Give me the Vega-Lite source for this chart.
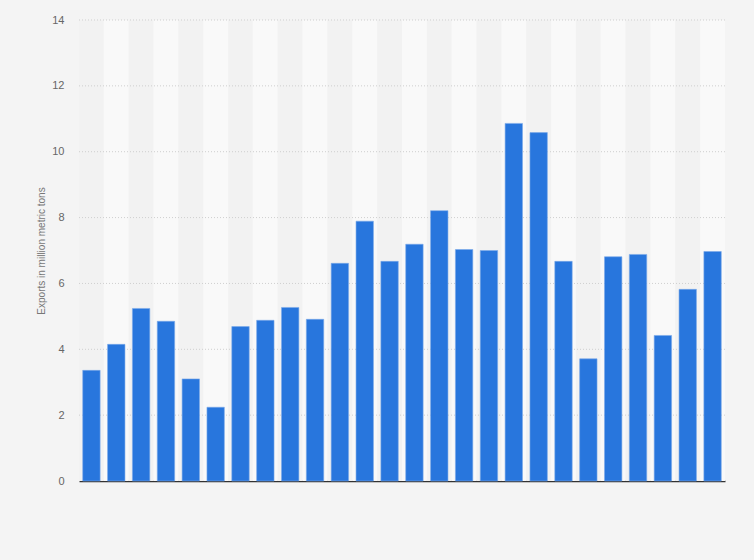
{
  "$schema": "https://vega.github.io/schema/vega-lite/v6.json",
  "width": 646,
  "height": 461,
  "autosize": "none",
  "padding": {"left": 79, "top": 20, "right": 29, "bottom": 79},
  "background": "#f4f4f4",
  "data": {
    "values": [
      {"year": 1996, "exports": 3.36},
      {"year": 1997, "exports": 4.15},
      {"year": 1998, "exports": 5.24},
      {"year": 1999, "exports": 4.85},
      {"year": 2000, "exports": 3.10},
      {"year": 2001, "exports": 2.24},
      {"year": 2002, "exports": 4.69},
      {"year": 2003, "exports": 4.88},
      {"year": 2004, "exports": 5.27},
      {"year": 2005, "exports": 4.91},
      {"year": 2006, "exports": 6.61},
      {"year": 2007, "exports": 7.89},
      {"year": 2008, "exports": 6.67},
      {"year": 2009, "exports": 7.19},
      {"year": 2010, "exports": 8.21},
      {"year": 2011, "exports": 7.03},
      {"year": 2012, "exports": 7.00},
      {"year": 2013, "exports": 10.86},
      {"year": 2014, "exports": 10.58},
      {"year": 2015, "exports": 6.67},
      {"year": 2016, "exports": 3.71},
      {"year": 2017, "exports": 6.81},
      {"year": 2018, "exports": 6.88},
      {"year": 2019, "exports": 4.42},
      {"year": 2020, "exports": 5.82},
      {"year": 2021, "exports": 6.97}
    ]
  },
  "layer": [
    {
      "transform": [
        {"window": [{"op": "row_number", "as": "idx"}]}
      ],
      "mark": {"type": "bar", "cornerRadius": 0},
      "encoding": {
        "x": {
          "field": "year",
          "type": "ordinal",
          "scale": {"paddingInner": 0, "paddingOuter": 0},
          "axis": null
        },
        "y": {"datum": 14, "type": "quantitative"},
        "y2": {"datum": 0},
        "color": {
          "condition": {"test": "datum.idx % 2 == 0", "value": "#f9f9f9"},
          "value": "#f2f2f2"
        }
      }
    },
    {
      "data": {"values": [{"v": 2}, {"v": 4}, {"v": 6}, {"v": 8}, {"v": 10}, {"v": 12}, {"v": 14}]},
      "mark": {"type": "rule", "color": "#cfcfcf", "strokeDash": [1, 2], "strokeWidth": 1},
      "encoding": {
        "y": {"field": "v", "type": "quantitative"}
      }
    },
    {
      "mark": {"type": "bar", "color": "#2876dd", "stroke": "#7aaaea", "strokeWidth": 0.6},
      "encoding": {
        "x": {
          "field": "year",
          "type": "ordinal",
          "scale": {"paddingInner": 0.3, "paddingOuter": 0.15},
          "axis": {
            "title": null,
            "labels": false,
            "ticks": false,
            "grid": false,
            "domain": true,
            "domainColor": "#333333",
            "domainWidth": 1.5
          }
        },
        "y": {
          "field": "exports",
          "type": "quantitative",
          "title": "Exports in million metric tons",
          "scale": {"domain": [0, 14], "nice": false},
          "axis": {
            "values": [0, 2, 4, 6, 8, 10, 12, 14],
            "grid": false,
            "domain": false,
            "ticks": false,
            "labelPadding": 15,
            "labelFontSize": 11,
            "labelColor": "#666666",
            "titleFontSize": 10,
            "titleFontWeight": "normal",
            "titleColor": "#777777",
            "titlePadding": 5
          }
        }
      }
    }
  ],
  "resolve": {"scale": {"x": "independent"}},
  "config": {
    "font": "Liberation Sans",
    "view": {"stroke": null}
  }
}
